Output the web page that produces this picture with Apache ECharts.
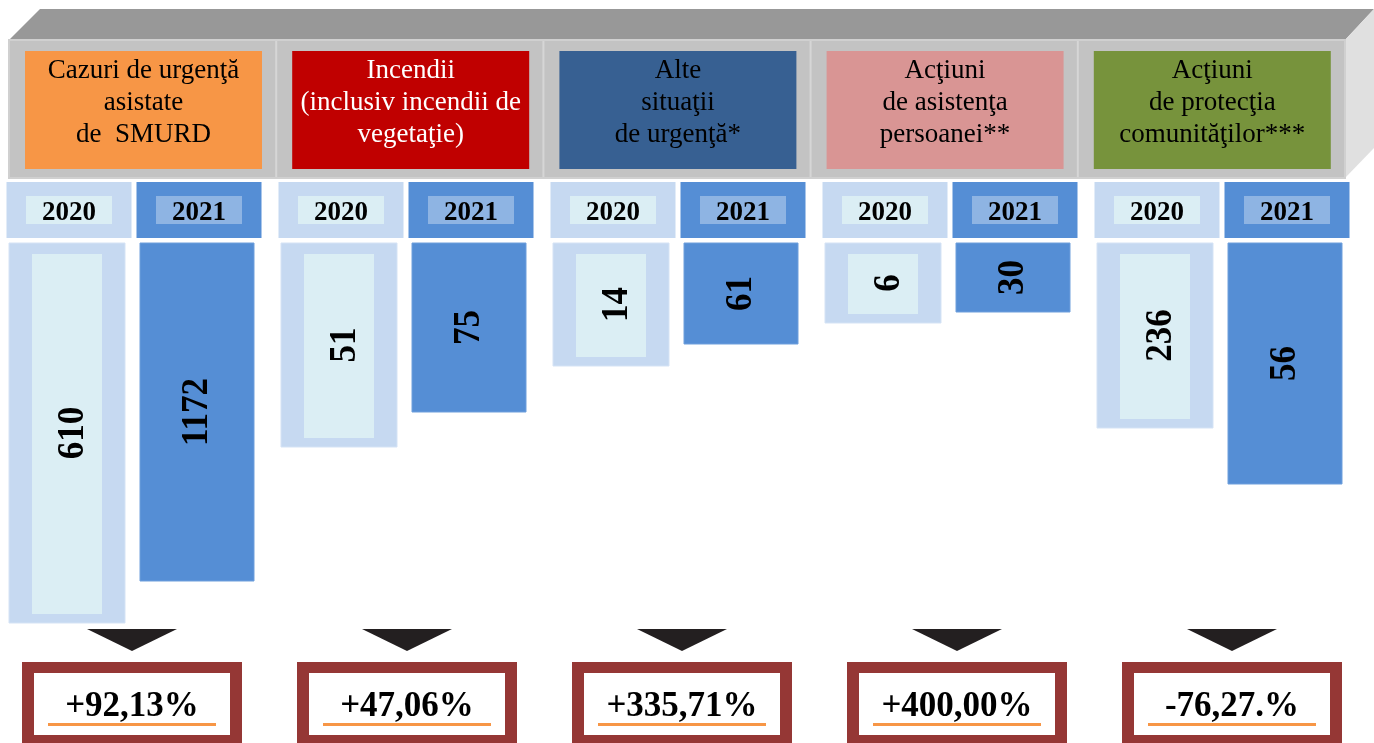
<!DOCTYPE html>
<html>
<head>
<meta charset="utf-8">
<script src="https://cdn.jsdelivr.net/npm/echarts@6/dist/echarts.min.js"></script>
<style>
  html, body { margin: 0; padding: 0; background: #fff; }
  #chart { width: 1374px; height: 743px; }
</style>
</head>
<body>
<div id="chart"></div>
<script>
// categorii (titlurile din antet)
var categories = [
    'Cazuri de urgenţă\nasistate\nde  SMURD',
    'Incendii\n(inclusiv incendii de\nvegetaţie)',
    'Alte\nsituaţii\nde urgenţă*',
    'Acţiuni\nde asistenţa\npersoanei**',
    'Acţiuni\nde protecţia\ncomunităţilor***'
]
var headerColors = ['#F79646', '#C00000', '#376092', '#D99594', '#77933C']
var headerText = ['#000000', '#ffffff', '#000000', '#000000', '#000000']
var years = ['2020', '2021']
var values2020 = [610, 51, 14, 6, 236]
var values2021 = [1172, 75, 61, 30, 56]
// lungimea barelor asa cum apar in imagine (nu sunt la scara valorilor)
var length2020 = [380, 204, 123, 80, 185]
var length2021 = [338, 169, 101, 69, 241]
var changes = ['+92,13%', '+47,06%', '+335,71%', '+400,00%', '-76,27.%']

var SERIF = '"Liberation Serif", "Times New Roman", serif'
var yearOuter = ['#C6D9F1', '#558ED5']
var yearInner = ['#DBEEF4', '#8EB4E3']
var shiftX = -4

var chart = echarts.init(document.getElementById('chart'))

// antetul 3D cu casetele colorate
function buildHeader () {
    var els = [
        { type: 'polygon', shape: { points: [[9, 40], [40, 9], [1374, 9], [1345, 40]] }, style: { fill: '#989898' } },
        { type: 'polygon', shape: { points: [[1345, 40], [1374, 9], [1374, 148], [1345, 178]] }, style: { fill: '#E0E0E0' } },
        { type: 'rect', shape: { x: 9, y: 40, width: 1336, height: 138 }, style: { fill: '#C3C3C3', stroke: '#D0D0D0', lineWidth: 2 } }
    ]
    var cellW = 1336 / categories.length
    categories.forEach(function (name, i) {
        var x0 = 9 + i * cellW
        if (i > 0) {
            els.push({ type: 'line', shape: { x1: x0, y1: 41, x2: x0, y2: 177 }, style: { stroke: '#D6D6D6', lineWidth: 2 } })
        }
        els.push({ type: 'rect', shape: { x: x0 + 16, y: 51, width: 237, height: 118 }, style: { fill: headerColors[i] } })
        els.push({
            type: 'text',
            x: x0 + 16 + 118.5,
            y: 103,
            style: {
                text: name,
                font: '27px ' + SERIF,
                fill: headerText[i],
                align: 'center',
                verticalAlign: 'middle',
                lineHeight: 32
            }
        })
    })
    return els
}

function renderYear (k) {
    return function (params, api) {
        var i = api.value(0)
        var len = api.value(1)
        var val = api.value(2)
        var p0 = api.coord([i, 0])
        var p1 = api.coord([i, len])
        var cx = p0[0] + shiftX + (k === 0 ? -65 : 65)
        var w = k === 0 ? 116 : 114
        var h = p1[1] - p0[1]
        var children = [
            // caseta anului
            { type: 'rect', shape: { x: cx - 60.5, y: p0[1] - 61, width: 125, height: 56 }, style: { fill: yearOuter[k] } },
            { type: 'rect', shape: { x: cx - 41, y: p0[1] - 47, width: 86, height: 28 }, style: { fill: yearInner[k] } },
            {
                type: 'text', x: cx + 2, y: p0[1] - 30,
                style: { text: years[k], font: 'bold 27px ' + SERIF, fill: '#000', align: 'center', verticalAlign: 'middle' }
            },
            // bara
            { type: 'rect', shape: { x: cx - w / 2, y: p0[1], width: w, height: h }, style: { fill: yearOuter[k], stroke: k === 0 ? '#D5E3F5' : '#6E9FDC', lineWidth: 1 } }
        ]
        if (k === 0) {
            children.push({ type: 'rect', shape: { x: cx - w / 2 + 23, y: p0[1] + 11, width: w - 46, height: h - 20 }, style: { fill: '#DBEEF4' } })
        }
        children.push({
            type: 'text',
            x: cx + (k === 0 ? 6 : 0),
            y: (p0[1] + p1[1]) / 2,
            rotation: Math.PI / 2,
            scaleY: 1.1,
            style: { text: String(val), font: 'bold 35px ' + SERIF, fill: '#000', align: 'center', verticalAlign: 'middle' }
        })
        return { type: 'group', children: children }
    }
}

function renderChange (params, api) {
    var i = api.value(0)
    var p = api.coord([i, 380])
    var cx = p[0] + shiftX + i * 3
    var y0 = p[1]
    return {
        type: 'group',
        children: [
            { type: 'polygon', shape: { points: [[cx - 45, y0 + 6], [cx + 45, y0 + 6], [cx, y0 + 28]] }, style: { fill: '#231F20' } },
            { type: 'rect', shape: { x: cx - 110, y: y0 + 39, width: 220, height: 84 }, style: { fill: '#953735' } },
            { type: 'rect', shape: { x: cx - 98, y: y0 + 50, width: 196, height: 62 }, style: { fill: '#ffffff' } },
            {
                type: 'text', x: cx, y: y0 + 84,
                style: { text: changes[i], font: 'bold 35px ' + SERIF, fill: '#000', align: 'center', verticalAlign: 'middle' }
            },
            { type: 'rect', shape: { x: cx - 84, y: y0 + 100, width: 168, height: 3 }, style: { fill: '#F79646' } }
        ]
    }
}

chart.setOption({
    animation: false,
    backgroundColor: '#ffffff',
    grid: { left: 0, right: 14, top: 243, height: 380 },
    xAxis: { type: 'category', data: categories, show: false },
    yAxis: { type: 'value', inverse: true, min: 0, max: 380, show: false },
    graphic: buildHeader(),
    series: [
        {
            name: years[0],
            type: 'custom',
            renderItem: renderYear(0),
            data: categories.map(function (c, i) { return [i, length2020[i], values2020[i]] })
        },
        {
            name: years[1],
            type: 'custom',
            renderItem: renderYear(1),
            data: categories.map(function (c, i) { return [i, length2021[i], values2021[i]] })
        },
        {
            name: 'Dinamica',
            type: 'custom',
            renderItem: renderChange,
            data: categories.map(function (c, i) { return [i] })
        }
    ]
})
</script>
</body>
</html>
